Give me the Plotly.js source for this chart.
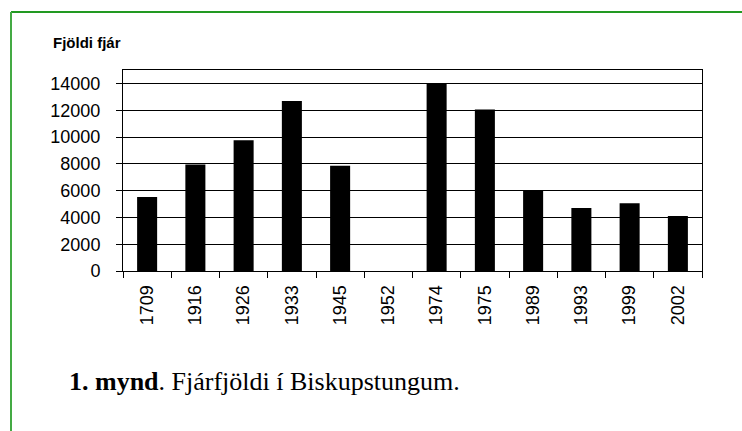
<!DOCTYPE html>
<html>
<head>
<meta charset="utf-8">
<script src="https://cdn.plot.ly/plotly-3.0.1.min.js"></script>
<style>html,body{margin:0;padding:0;background:#fff;}#chart{width:742px;height:431px;}</style>
</head>
<body>
<div id="chart"></div>
<script>
const years = ["1709","1916","1926","1933","1945","1952","1974","1975","1989","1993","1999","2002"];
const sheep = [5530, 7950, 9750, 12680, 7850, 0, 14000, 12060, 6030, 4710, 5060, 4110];
const yTicks = [0, 2000, 4000, 6000, 8000, 10000, 12000, 14000];
const chartTitle = "Fjöldi fjár";
const caption = "<b>1. mynd</b>. Fjárfjöldi í Biskupstungum.";

const W = 742, H = 431;
const mL = 123, mR = 40, mT = 70, mB = 160;
const pw = W - mL - mR, ph = H - mT - mB;
const px = x => (x - mL) / pw;
const py = y => (H - mB - y) / ph;

const trace = {
  type: 'bar',
  x: years,
  y: sheep,
  marker: {color: '#000000', line: {width: 0}},
  hoverinfo: 'x+y'
};

const layout = {
  width: W, height: H,
  margin: {l: mL, r: mR, t: mT, b: mB, pad: 0},
  paper_bgcolor: '#ffffff',
  plot_bgcolor: '#ffffff',
  bargap: 0.585,
  showlegend: false,
  font: {family: '"Liberation Sans", Arial, sans-serif', color: '#000', size: 18},
  title: {
    text: '<b>' + chartTitle + '</b>',
    font: {family: '"Liberation Sans", Arial, sans-serif', size: 15, color: '#000'},
    x: 53 / W, xanchor: 'left', xref: 'container',
    y: 1 - 42.5 / H, yanchor: 'middle', yref: 'container'
  },
  xaxis: {
    type: 'category',
    tickson: 'boundaries',
    ticks: 'outside', ticklen: 6, tickwidth: 1, tickcolor: '#000',
    tickangle: -90,
    tickfont: {size: 18, color: '#000'},
    ticklabelstandoff: 6,
    showgrid: false,
    showline: true, linecolor: '#000', linewidth: 1, mirror: true,
    zeroline: false,
    fixedrange: true
  },
  yaxis: {
    range: [0, 15000],
    tickvals: yTicks,
    ticktext: yTicks.map(String),
    ticks: 'outside', ticklen: 6, tickwidth: 1, tickcolor: '#000',
    tickfont: {size: 18, color: '#000'},
    ticklabelstandoff: 12,
    showgrid: true, gridcolor: '#000', gridwidth: 1,
    showline: true, linecolor: '#000', linewidth: 1, mirror: true,
    zeroline: false,
    fixedrange: true
  },
  shapes: [
    {type: 'line', xref: 'paper', yref: 'paper', x0: px(11), x1: px(W + 10), y0: py(12), y1: py(12),
     line: {color: '#229922', width: 2}},
    {type: 'line', xref: 'paper', yref: 'paper', x0: px(11), x1: px(11), y0: py(12), y1: py(H + 10),
     line: {color: '#44aa44', width: 2}}
  ],
  annotations: [
    {text: caption, xref: 'paper', yref: 'paper', x: px(67), y: py(381), xanchor: 'left', yanchor: 'middle',
     showarrow: false, font: {family: '"Liberation Serif", "Times New Roman", serif', size: 26, color: '#000'}}
  ]
};

Plotly.newPlot('chart', [trace], layout, {displayModeBar: false, staticPlot: true});
</script>
</body>
</html>
